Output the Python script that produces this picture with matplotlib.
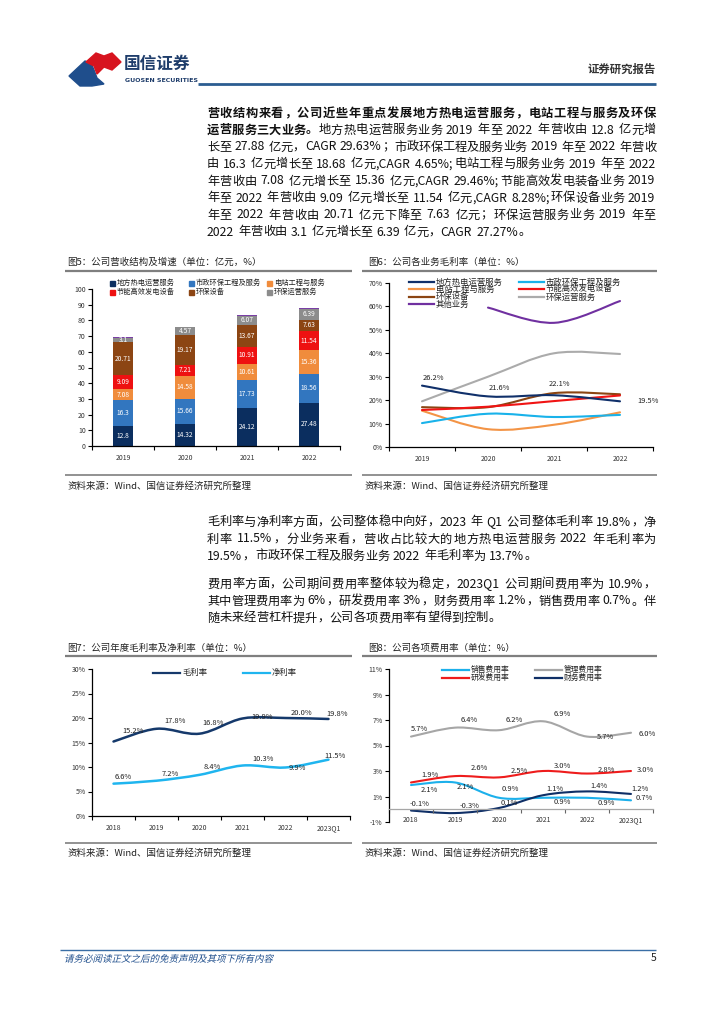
import matplotlib
matplotlib.use('Agg')
import matplotlib.pyplot as plt
from matplotlib.path import Path
from matplotlib.patches import PathPatch, Polygon, Rectangle
from matplotlib.lines import Line2D
from matplotlib.textpath import TextPath
from matplotlib.font_manager import FontProperties
from matplotlib.transforms import Affine2D

plt.rcParams['font.family'] = ['Noto Sans CJK SC', 'DejaVu Sans']
plt.rcParams['axes.unicode_minus'] = False

# ---------------- data ----------------
years_rev = ['2019', '2020', '2021', '2022']
seg_names = ['地方热电运营服务', '市政环保工程及服务', '电站工程与服务',
             '节能高效发电设备', '环保设备', '环保运营服务']
rev_heat = [12.8, 14.32, 24.12, 27.48]
rev_muni = [16.3, 15.66, 17.73, 18.56]
rev_station = [7.08, 14.58, 10.61, 15.36]
rev_equip = [9.09, 7.21, 10.91, 11.54]
rev_env_equip = [20.71, 19.17, 13.67, 7.63]
rev_env_ops = [3.1, 4.57, 6.07, 6.39]
rev_other = [0.2, 0.6, 0.5, 0.8]

years_gm = ['2019', '2020', '2021', '2022']
gm_names = ['地方热电运营服务', '市政环保工程及服务', '电站工程与服务',
            '节能高效发电设备', '环保设备', '环保运营服务', '其他业务']
gm_heat = [26.2, 21.6, 22.1, 19.5]
gm_muni = [10.2, 14.2, 12.8, 13.7]
gm_station = [15.5, 7.6, 9.5, 14.8]
gm_equip = [15.8, 17.2, 19.6, 22.0]
gm_env_equip = [17.0, 17.0, 23.0, 22.5]
gm_env_ops = [19.5, 30.0, 40.0, 39.7]
gm_other = [None, 59.5, 53.0, 62.3]

years_margin = ['2018', '2019', '2020', '2021', '2022', '2023Q1']
gross_margin = [15.2, 17.8, 16.8, 19.9, 20.0, 19.8]
net_margin = [6.6, 7.2, 8.4, 10.3, 9.9, 11.5]

years_fee = ['2018', '2019', '2020', '2021', '2022', '2023Q1']
fee_names = ['销售费用率', '管理费用率', '研发费用率', '财务费用率']
fee_sales = [1.9, 2.1, 0.9, 0.9, 0.9, 0.7]
fee_admin = [5.7, 6.4, 6.2, 6.9, 5.7, 6.0]
fee_rd = [2.1, 2.6, 2.5, 3.0, 2.8, 3.0]
fee_fin = [-0.1, -0.3, 0.1, 1.1, 1.4, 1.2]

# ---------------- helpers ----------------
W, H = 724, 1024
fig = plt.figure(figsize=(W / 100, H / 100), dpi=100)
fig.patch.set_facecolor('white')
renderer = fig.canvas.get_renderer()


def FX(x):
    return x / W


def FY(y):
    return 1 - y / H


def rect(x0, y0, x1, y1):
    return [x0 / W, 1 - y1 / H, (x1 - x0) / W, (y1 - y0) / H]


def ftext(x, y, s, size=7, ha='left', va='center', **kw):
    return fig.text(FX(x), FY(y), s, fontsize=size, ha=ha, va=va, **kw)


def fline(x0, x1, y, color, lw):
    fig.add_artist(Line2D([FX(x0), FX(x1)], [FY(y), FY(y)], color=color, lw=lw,
                          transform=fig.transFigure, solid_capstyle='butt'))


def smooth_path(xs, ys):
    pts = [(x, y) for x, y in zip(xs, ys) if y is not None]
    verts = [pts[0]]
    codes = [Path.MOVETO]
    n = len(pts)
    for i in range(n - 1):
        p0 = pts[i - 1] if i > 0 else pts[i]
        p1 = pts[i]
        p2 = pts[i + 1]
        p3 = pts[i + 2] if i + 2 < n else p2
        c1 = (p1[0] + (p2[0] - p0[0]) / 6, p1[1] + (p2[1] - p0[1]) / 6)
        c2 = (p2[0] - (p3[0] - p1[0]) / 6, p2[1] - (p3[1] - p1[1]) / 6)
        verts += [c1, c2, p2]
        codes += [Path.CURVE4] * 3
    return Path(verts, codes)


def smooth_line(ax, ys, color, lw=1.5):
    xs = list(range(len(ys)))
    ax.add_patch(PathPatch(smooth_path(xs, ys), fill=False, edgecolor=color,
                           lw=lw, capstyle='round', joinstyle='round'))


def legend_line(x, y, color, label, length=27, size=5.5):
    fig.add_artist(Line2D([FX(x), FX(x + length)], [FY(y), FY(y)], color=color,
                          lw=1.6, transform=fig.transFigure))
    ftext(x + length + 2, y, label, size=size, color='#222222')


def legend_box(x, y, color, label, size=5.2):
    fig.add_artist(Rectangle((FX(x), FY(y + 2.5)), 5 / W, 5 / H, color=color,
                             transform=fig.transFigure))
    ftext(x + 7, y, label, size=size, color='#222222')


def style_axes(ax, ncat, ylim, yticks, fmt, labels):
    ax.set_xlim(-0.5, ncat - 0.5)
    ax.set_ylim(*ylim)
    ax.set_yticks(yticks)
    ax.set_yticklabels([fmt(v) for v in yticks], fontsize=5, color='#333333')
    for s in ['top', 'right']:
        ax.spines[s].set_visible(False)
    ax.spines['left'].set_linewidth(0.9)
    ax.spines['bottom'].set_linewidth(0.9)
    ax.tick_params(axis='y', length=3, width=0.8, direction='out', pad=1.5)
    ax.set_xticks(range(ncat))
    ax.set_xticklabels(labels, fontsize=5, color='#333333')
    ax.set_xticks([i - 0.5 for i in range(ncat + 1)], minor=True)
    ax.tick_params(axis='x', which='major', length=0, pad=6)
    ax.tick_params(axis='x', which='minor', length=3, width=0.8, direction='out')
    ax.set_facecolor('none')


# ---------------- header ----------------
fig.add_artist(Polygon([[FX(69), FY(76)], [FX(85), FY(61)], [FX(91), FY(63)],
                        [FX(94), FY(70)], [FX(97), FY(78)], [FX(104), FY(84)],
                        [FX(92), FY(86)], [FX(80), FY(86)]],
                       closed=True, color='#1f4e8c', transform=fig.transFigure))
fig.add_artist(Polygon([[FX(86), FY(62)], [FX(96), FY(53)], [FX(104), FY(56)],
                        [FX(112), FY(53)], [FX(121), FY(62)], [FX(112), FY(70)],
                        [FX(104), FY(67)], [FX(97), FY(74)], [FX(94), FY(66)]],
                       closed=True, color='#d7141f', transform=fig.transFigure))
ftext(124, 64, '国信证券', size=12, color='#1f3d6b', fontweight='bold')
ftext(125, 80, 'GUOSEN SECURITIES', size=4.5, color='#1f3d6b', fontweight='bold',
      family=['DejaVu Sans'])
ftext(656, 69, '证券研究报告', size=8.2, ha='right', color='#333333', fontweight='bold')
fline(198, 656, 84, '#2b5d91', 2.0)

# ---------------- body text (justified) ----------------
BODY = 8.8
X0, X1 = 207, 656


def body_line(y, parts, justify=True, size=BODY):
    toks = []
    for s, bold in parts:
        prop = FontProperties(family=['Noto Sans CJK SC', 'DejaVu Sans'], size=size,
                              weight='bold' if bold else 'normal')
        i = 0
        while i < len(s):
            ch = s[i]
            if ch == ' ':
                toks.append((' ', prop))
                i += 1
            elif ord(ch) < 128:
                j = i
                while j < len(s) and ord(s[j]) < 128 and s[j] != ' ':
                    j += 1
                toks.append((s[i:j], prop))
                i = j
            else:
                toks.append((ch, prop))
                i += 1
    em = size * 100 / 72

    def width(t, p):
        if t == ' ':
            return em * 0.28
        if ord(t[0]) >= 128:
            return em
        w, _, _ = renderer.get_text_width_height_descent(t, p, ismath=False)
        return w + em * 0.06

    widths = [width(t, p) for t, p in toks]
    natural = sum(widths)
    gap = 0.0
    if justify and len(toks) > 1:
        gap = (X1 - X0 - natural) / (len(toks) - 1)
    x = X0
    for (t, p), w in zip(toks, widths):
        if t != ' ':
            fig.text(FX(x), FY(y), t, fontproperties=p, ha='left', va='center',
                     color='#111111')
        x += w + gap


p1 = [
    [('营收结构来看，公司近些年重点发展地方热电运营服务，电站工程与服务及环保', True)],
    [('运营服务三大业务。', True), ('地方热电运营服务业务 2019 年至 2022 年营收由 12.8 亿元增', False)],
    [('长至 27.88 亿元，CAGR 29.63%；市政环保工程及服务业务 2019 年至 2022 年营收', False)],
    [('由 16.3 亿元增长至 18.68 亿元,CAGR 4.65%;电站工程与服务业务 2019 年至 2022', False)],
    [('年营收由 7.08 亿元增长至 15.36 亿元,CAGR 29.46%;节能高效发电装备业务 2019', False)],
    [('年至 2022 年营收由 9.09 亿元增长至 11.54 亿元,CAGR 8.28%;环保设备业务 2019', False)],
    [('年至 2022 年营收由 20.71 亿元下降至 7.63 亿元；环保运营服务业务 2019 年至', False)],
    [('2022 年营收由 3.1 亿元增长至 6.39 亿元，CAGR 27.27%。', False)],
]
for i, parts in enumerate(p1):
    body_line(113 + i * 17, parts, justify=(i < len(p1) - 1))

p2 = [
    '毛利率与净利率方面，公司整体稳中向好，2023 年 Q1 公司整体毛利率 19.8%，净',
    '利率 11.5%，分业务来看，营收占比较大的地方热电运营服务 2022 年毛利率为',
    '19.5%，市政环保工程及服务业务 2022 年毛利率为 13.7%。',
]
for i, s in enumerate(p2):
    body_line(522 + i * 17, [(s, False)], justify=(i < len(p2) - 1))

p3 = [
    '费用率方面，公司期间费用率整体较为稳定，2023Q1 公司期间费用率为 10.9%，',
    '其中管理费用率为 6%，研发费用率 3%，财务费用率 1.2%，销售费用率 0.7%。伴',
    '随未来经营杠杆提升，公司各项费用率有望得到控制。',
]
for i, s in enumerate(p3):
    body_line(584 + i * 17, [(s, False)], justify=(i < len(p3) - 1))

# ---------------- chart frames ----------------
TITLE = 6.8
SRC = 6.8
for (x0, x1) in [(65, 352), (362, 657)]:
    fline(x0, x1, 271, '#7f7f7f', 1.6)
    fline(x0, x1, 475, '#7f7f7f', 1.2)
    fline(x0, x1, 656, '#7f7f7f', 1.6)
    fline(x0, x1, 843, '#7f7f7f', 1.2)
    ftext(x0 + 2, 486, '资料来源：Wind、国信证券经济研究所整理', size=SRC, color='#222222')
    ftext(x0 + 2, 853, '资料来源：Wind、国信证券经济研究所整理', size=SRC, color='#222222')

ftext(67, 262, '图5：公司营收结构及增速（单位：亿元，%）', size=TITLE, color='#222222')
ftext(368, 262, '图6：公司各业务毛利率（单位：%）', size=TITLE, color='#222222')
ftext(67, 648, '图7：公司年度毛利率及净利率（单位：%）', size=TITLE, color='#222222')
ftext(368, 648, '图8：公司各项费用率（单位：%）', size=TITLE, color='#222222')

# ---------------- chart 5: stacked bars ----------------
ax5 = fig.add_axes(rect(92, 289, 340, 446))
style_axes(ax5, 4, (0, 100), list(range(0, 101, 10)), lambda v: '%d' % v, years_rev)
seg_colors = ['#0b2e5f', '#3276bf', '#f08c3c', '#ee1111', '#8c4513', '#8c8c8c']
series5 = [rev_heat, rev_muni, rev_station, rev_equip, rev_env_equip, rev_env_ops]
bottom = [0.0] * 4
xs5 = list(range(4))
for vals, col in zip(series5, seg_colors):
    ax5.bar(xs5, vals, width=0.31, bottom=bottom, color=col, linewidth=0)
    for x, b, v in zip(xs5, bottom, vals):
        ax5.text(x, b + v / 2, '{:g}'.format(v), ha='center', va='center',
                 fontsize=4.8, color='white')
    bottom = [b + v for b, v in zip(bottom, vals)]
ax5.bar(xs5, rev_other, width=0.31, bottom=bottom, color='#7a3fa6', linewidth=0)

leg5 = [(110, 283), (189, 283), (267, 283), (110, 292), (189, 292), (267, 292)]
for (lx, ly), name, col in zip(leg5, seg_names, seg_colors):
    legend_box(lx, ly, col, name)

# ---------------- chart 6: gross margin by segment ----------------
ax6 = fig.add_axes(rect(389, 283, 653, 447))
style_axes(ax6, 4, (0, 70), list(range(0, 71, 10)), lambda v: '%d%%' % v, years_gm)
gm_series = [gm_heat, gm_muni, gm_station, gm_equip, gm_env_equip, gm_env_ops, gm_other]
gm_colors = ['#10306a', '#19b2ea', '#f39446', '#f01414', '#8b4513', '#ababab', '#7030a0']
draw_order = [5, 6, 2, 1, 4, 3, 0]
for i in draw_order:
    smooth_line(ax6, gm_series[i], gm_colors[i], lw=1.5)
lab_pos6 = [(0.18, 29.4, 'center'), (1.17, 25.2, 'center'), (2.08, 26.9, 'center'),
            (3.26, 19.5, 'left')]
for v, (lx, ly, ha) in zip(gm_heat, lab_pos6):
    ax6.text(lx, ly, '%.1f%%' % v, fontsize=5.4, ha=ha, va='center', color='#222222')
leg6 = [(409, 282), (519, 282), (409, 289), (519, 289), (409, 297), (519, 297), (409, 304)]
for (lx, ly), name, col in zip(leg6, gm_names, gm_colors):
    legend_line(lx, ly, col, name, length=25, size=6)

# ---------------- chart 7: gross / net margin ----------------
ax7 = fig.add_axes(rect(92, 669, 350, 816))
style_axes(ax7, 6, (0, 30), list(range(0, 31, 5)), lambda v: '%d%%' % v, years_margin)
smooth_line(ax7, gross_margin, '#15396b', lw=1.8)
smooth_line(ax7, net_margin, '#1fb5ef', lw=1.8)
gm_lab = [(0.45, 17.35), (1.43, 19.4), (2.31, 19.0), (3.45, 20.3), (4.38, 21.0), (5.2, 20.8)]
nm_lab = [(0.22, 7.96), (1.31, 8.57), (2.29, 10.0), (3.48, 11.6), (4.27, 9.8), (5.15, 12.24)]
for v, (lx, ly) in zip(gross_margin, gm_lab):
    ax7.text(lx, ly, '%.1f%%' % v, fontsize=5.4, ha='center', va='center', color='#222222')
for v, (lx, ly) in zip(net_margin, nm_lab):
    ax7.text(lx, ly, '%.1f%%' % v, fontsize=5.4, ha='center', va='center', color='#222222')
legend_line(153, 673, '#15396b', '毛利率', length=27, size=6)
legend_line(243, 673, '#1fb5ef', '净利率', length=27, size=6)

# ---------------- chart 8: expense ratios ----------------
ax8 = fig.add_axes(rect(389, 669, 653, 822))
ax8.spines['bottom'].set_position(('data', 0))
style_axes(ax8, 6, (-1, 11), list(range(-1, 12, 2)), lambda v: '%d%%' % v, years_fee)
ax8.spines['bottom'].set_color('#a6a6a6')
ax8.tick_params(axis='x', which='minor', color='#666666')
ax8.tick_params(axis='x', which='major', pad=5)
fee_series = [fee_sales, fee_admin, fee_rd, fee_fin]
fee_colors = ['#1cb0eb', '#a6a6a6', '#ee1c1c', '#0f2f66']
for vals, col in zip(fee_series, fee_colors):
    smooth_line(ax8, vals, col, lw=1.5)
fee_lab_pos = [
    [(0.43, 2.69), (1.23, 1.75), (2.25, 1.59), (3.43, 0.57), (4.45, 0.49), (5.3, 0.88)],
    [(0.2, 6.29), (1.32, 7.0), (2.34, 7.0), (3.43, 7.47), (4.41, 5.67), (5.36, 5.9)],
    [(0.41, 1.51), (1.55, 3.24), (2.45, 3.0), (3.43, 3.4), (4.45, 3.08), (5.32, 3.08)],
    [(0.2, 0.41), (1.34, 0.25), (2.23, 0.49), (3.27, 1.59), (4.27, 1.82), (5.2, 1.59)],
]
for vals, poss in zip(fee_series, fee_lab_pos):
    for v, (lx, ly) in zip(vals, poss):
        ax8.text(lx, ly, '%.1f%%' % v, fontsize=5.4, ha='center', va='center',
                 color='#222222')
leg8 = [(442, 670), (535, 670), (442, 678), (535, 678)]
for (lx, ly), name, col in zip(leg8, fee_names, fee_colors):
    legend_line(lx, ly, col, name, length=27, size=5.6)

# ---------------- footer ----------------
fline(60, 656, 950, '#3a6ea5', 1.0)
fp = FontProperties(family='Noto Sans CJK SC')
tp = TextPath((0, 0), '请务必阅读正文之后的免责声明及其项下所有内容', size=9.5, prop=fp)
fig.add_artist(PathPatch(tp, color='#1f4e8c', lw=0,
                         transform=Affine2D().skew_deg(14, 0).translate(64, H - 962)))
ftext(656, 958, '5', size=7.5, ha='right', color='#222222')

fig.savefig('out.png', dpi=100, facecolor='white')
